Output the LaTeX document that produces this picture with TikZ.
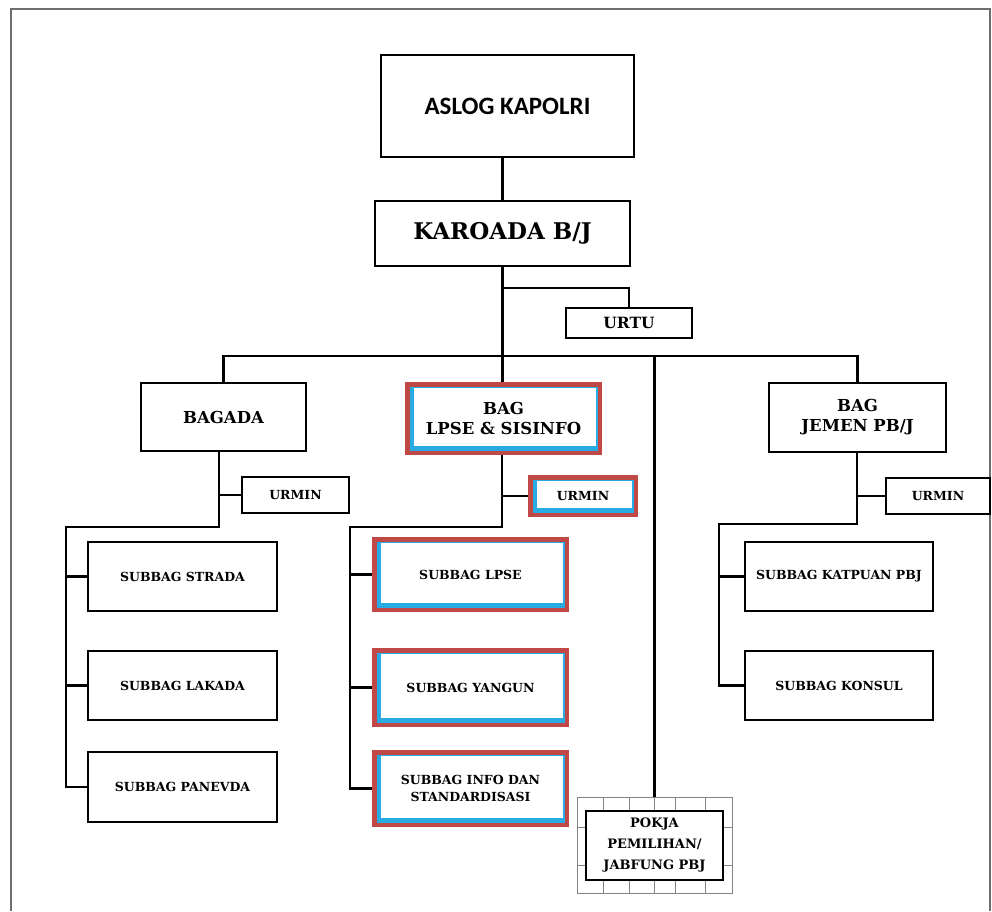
\documentclass[tikz,border=0pt]{standalone}
\usepackage{fontspec}
\newfontfamily\bkfont{DejaVu Serif}
\newfontfamily\califont{Carlito}
\definecolor{hlred}{RGB}{192,72,70}
\definecolor{hlblue}{RGB}{40,170,226}
\definecolor{framegray}{RGB}{110,110,110}
\definecolor{gridgray}{RGB}{130,130,130}
\begin{document}
\begin{tikzpicture}[x=1pt,y=-1pt,
  conn/.style={line width=2.8pt},
  box/.style={draw, line width=2.8pt, fill=white, inner sep=0pt, align=center},
  hl/.style={fill=white, inner sep=0pt, align=center, path picture={
    \fill[hlred] (path picture bounding box.south west) rectangle (path picture bounding box.north east);
    \fill[hlblue] ([shift={(4.5pt,4.5pt)}]path picture bounding box.south west) rectangle ([shift={(-4.5pt,-4.5pt)}]path picture bounding box.north east);
    \fill[white] ([shift={(8.5pt,9.5pt)}]path picture bounding box.south west) rectangle ([shift={(-6pt,-6pt)}]path picture bounding box.north east);
  }},
  fbig/.style={font=\bkfont\bfseries\fontsize{23}{26}\selectfont},
  fbag/.style={font=\bkfont\bfseries\fontsize{16.5}{20}\selectfont},
  furtu/.style={font=\bkfont\bfseries\fontsize{15.5}{18}\selectfont},
  fsmall/.style={font=\bkfont\bfseries\fontsize{12.5}{17}\selectfont},
  fpokja/.style={font=\bkfont\bfseries\fontsize{13}{21}\selectfont},
]
\useasboundingbox (0,0) rectangle (992,911);
% outer frame
\draw[framegray, line width=2pt] (11,911) -- (11,9) -- (990,9) -- (990,911);

% top
\node[box, minimum width=253pt, minimum height=102pt, font=\califont\bfseries\fontsize{25}{28}\selectfont] (aslog) at (507.5,106) {ASLOG KAPOLRI};
\node[box, fbig, minimum width=255pt, minimum height=65pt] (karoada) at (502.5,233.5) {KAROADA B/J};
\node[box, furtu, minimum width=126pt, minimum height=30pt] (urtu) at (629,323) {URTU};

% bag level
\node[box, fbag, minimum width=165pt, minimum height=68pt] (bagada) at (223.5,417) {BAGADA};
\node[hl, fbag, minimum width=197pt, minimum height=73pt] (lpse) at (503.5,418.5) {BAG\\LPSE \& SISINFO};
\node[box, fbag, minimum width=177pt, minimum height=69pt] (jemen) at (857.5,417.5) {BAG\\JEMEN PB/J};

% urmin
\node[box, fsmall, minimum width=107pt, minimum height=36pt] (urminA) at (295.5,495) {URMIN};
\node[hl, fsmall, minimum width=110pt, minimum height=42pt] (urminB) at (583,496) {URMIN};
\node[box, fsmall, minimum width=104pt, minimum height=36pt] (urminC) at (938,496) {URMIN};

% left subbags
\node[box, fsmall, minimum width=189pt, minimum height=69pt] (strada) at (182.5,576.5) {SUBBAG STRADA};
\node[box, fsmall, minimum width=189pt, minimum height=69pt] (lakada) at (182.5,685.5) {SUBBAG LAKADA};
\node[box, fsmall, minimum width=189pt, minimum height=70pt] (panevda) at (182.5,787) {SUBBAG PANEVDA};

% middle subbags
\node[hl, fsmall, minimum width=197pt, minimum height=75pt] (sublpse) at (470.5,574.5) {SUBBAG LPSE};
\node[hl, fsmall, minimum width=197pt, minimum height=79pt] (yangun) at (470.5,687.5) {SUBBAG YANGUN};
\node[hl, fsmall, minimum width=197pt, minimum height=77pt] (info) at (470.5,788.5) {SUBBAG INFO DAN\\STANDARDISASI};

% right subbags
\node[box, fsmall, minimum width=188pt, minimum height=69pt] (katpuan) at (839,576.5) {SUBBAG KATPUAN PBJ};
\node[box, fsmall, minimum width=188pt, minimum height=69pt] (konsul) at (839,685.5) {SUBBAG KONSUL};

% pokja
\node[draw=gridgray, line width=1pt, inner sep=0pt, minimum width=155pt, minimum height=96pt] (pokjaframe) at (654.5,845) {};
\foreach \xx in {603,629,654,675,705} {
  \draw[gridgray, line width=1pt] (\xx,797) -- (\xx,811);
  \draw[gridgray, line width=1pt] (\xx,880) -- (\xx,893);
}
\foreach \yy in {827,865} {
  \draw[gridgray, line width=1pt] (577,\yy) -- (586,\yy);
  \draw[gridgray, line width=1pt] (723,\yy) -- (732,\yy);
}
\node[box, fpokja, minimum width=137pt, minimum height=69pt] (pokja) at (654.5,845.5) {POKJA\\PEMILIHAN/\\JABFUNG PBJ};

% connectors
\coordinate (bar) at (503,356);
\coordinate (ujunc) at (503,288);
\draw[conn] (aslog.south -| karoada.north) -- (karoada.north);
\draw[conn] (karoada.south) -- (karoada.south |- lpse.north);
\draw[conn] (ujunc) -| (urtu.north);
\draw[conn] (bagada.north) |- (bar) -| (jemen.north);
\draw[conn] (pokjaframe.north |- bar) -- (pokjaframe.north);

\coordinate (a1) at (219,527);
\coordinate (aL) at (66,527);
\draw[conn] (a1 |- bagada.south) -- (a1) -- (aL) |- (panevda.west);
\draw[conn] (aL |- strada.west) -- (strada.west);
\draw[conn] (aL |- lakada.west) -- (lakada.west);
\draw[conn] (a1 |- urminA.west) -- (urminA.west);

\coordinate (b1) at (502,527);
\coordinate (bL) at (350,527);
\draw[conn] (b1 |- lpse.south) -- (b1) -- (bL) |- (info.west);
\draw[conn] (bL |- sublpse.west) -- (sublpse.west);
\draw[conn] (bL |- yangun.west) -- (yangun.west);
\draw[conn] (b1 |- urminB.west) -- (urminB.west);

\coordinate (c1) at (857,524);
\coordinate (cL) at (719,524);
\draw[conn] (c1 |- jemen.south) -- (c1) -- (cL) |- (konsul.west);
\draw[conn] (cL |- katpuan.west) -- (katpuan.west);
\draw[conn] (c1 |- urminC.west) -- (urminC.west);
\end{tikzpicture}
\end{document}
